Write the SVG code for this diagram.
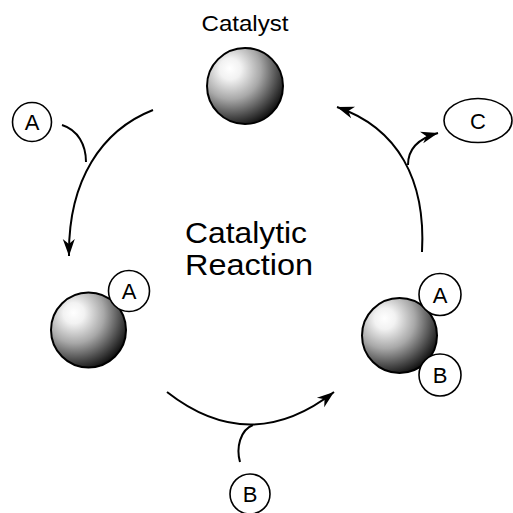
<svg xmlns="http://www.w3.org/2000/svg" width="513" height="513" viewBox="0 0 513 513">
<style>
.sphere{stroke:#000;stroke-width:2;fill:url(#sg)}
.lbl{fill:#fff;stroke:#000;stroke-width:1.6}
.t{font-family:"Liberation Sans",Arial,sans-serif;fill:#000;text-anchor:middle}
.l{font-size:22px}
.c{fill:none;stroke:#000;stroke-width:2}
</style>
<defs>
<radialGradient id="sg" cx="0.33" cy="0.3" r="0.78" fx="0.3" fy="0.27">
<stop offset="0" stop-color="#ffffff"/>
<stop offset="0.18" stop-color="#f2f2f2"/>
<stop offset="0.5" stop-color="#a8a8a8"/>
<stop offset="0.8" stop-color="#454545"/>
<stop offset="1" stop-color="#050505"/>
</radialGradient>
<marker id="ah" markerWidth="20" markerHeight="14" viewBox="-18 -7 20 14" refX="0" refY="0" orient="auto" markerUnits="userSpaceOnUse">
<path d="M0,0 L-17,-6 L-12,0 L-17,6 Z" fill="#000"/>
</marker>
</defs>
<rect width="513" height="513" fill="#fff"/>
<g id="catalyst">
<text class="t" x="245" y="31" font-size="22" textLength="87" lengthAdjust="spacingAndGlyphs">Catalyst</text>
<circle class="sphere" cx="245" cy="86" r="38"/>
</g>
<g id="center-label">
<text class="t" x="246" y="243" font-size="29.5" textLength="122" lengthAdjust="spacingAndGlyphs">Catalytic</text>
<text class="t" x="249" y="275" font-size="29.5" textLength="128" lengthAdjust="spacingAndGlyphs">Reaction</text>
</g>
<g id="reagent-A">
<circle class="lbl" cx="32" cy="122" r="19.5"/>
<text class="t l" x="32" y="130">A</text>
</g>
<g id="catalyst-A">
<circle class="sphere" cx="88.5" cy="330" r="37.5"/>
<circle class="lbl" cx="129" cy="291" r="20.5"/>
<text class="t l" x="129" y="299">A</text>
</g>
<g id="catalyst-AB">
<circle class="sphere" cx="399.5" cy="335.5" r="37.5"/>
<circle class="lbl" cx="440" cy="294.5" r="21"/>
<text class="t l" x="440" y="302.5">A</text>
<circle class="lbl" cx="440" cy="375" r="21"/>
<text class="t l" x="440" y="383">B</text>
</g>
<g id="reagent-B">
<circle class="lbl" cx="250" cy="494" r="20"/>
<text class="t l" x="250" y="502">B</text>
</g>
<g id="product-C">
<ellipse class="lbl" cx="478" cy="120.5" rx="34" ry="22"/>
<text class="t l" x="478" y="128.5">C</text>
</g>
<g id="connectors">
<path class="c" d="M153,110 C102,130 68,180 69,256" marker-end="url(#ah)"/>
<path class="c" d="M62,125 C78,130 86,145 86,162"/>
<path class="c" d="M422,252 C426,180 398,128 337,107" marker-end="url(#ah)"/>
<path class="c" d="M408,165 C408,148 420,138 438,133" marker-end="url(#ah)"/>
<path class="c" d="M167,392 Q250,457 334,392" marker-end="url(#ah)"/>
<path class="c" d="M253,425 C240,430 236,448 240,462"/>
</g>
</svg>
